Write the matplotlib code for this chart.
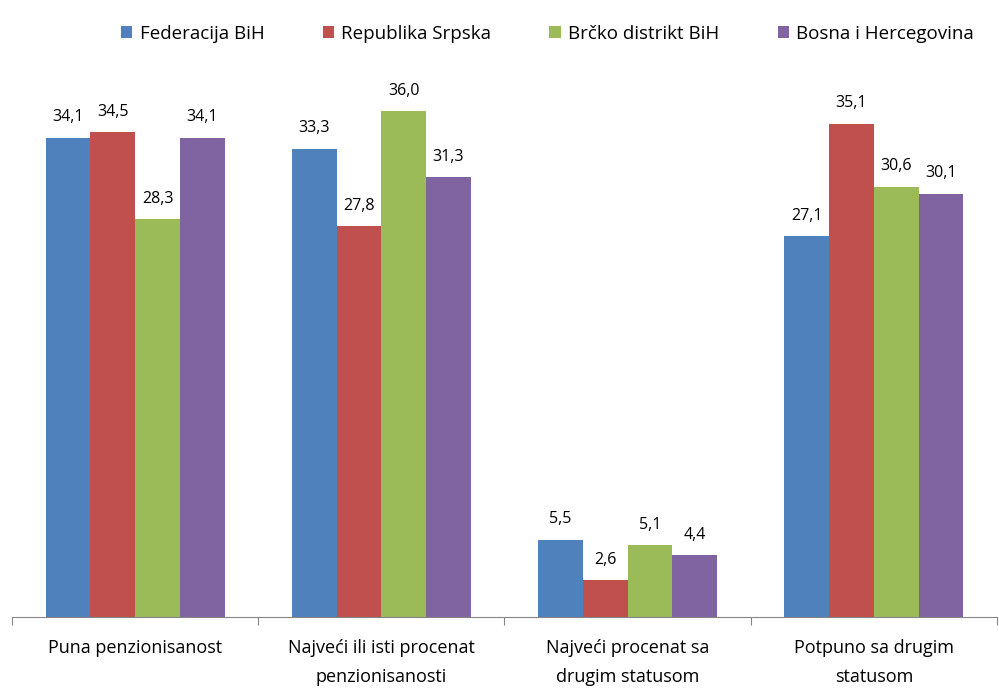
import matplotlib
matplotlib.use("Agg")
import matplotlib.pyplot as plt
import numpy as np

categories = ["Puna penzionisanost", "Najveći ili isti procenat\npenzionisanosti",
              "Najveći procenat sa\ndrugim statusom", "Potpuno sa drugim\nstatusom"]
series_names = ["Federacija BiH", "Republika Srpska", "Brčko distrikt BiH", "Bosna i Hercegovina"]
fbih = [34.1, 33.3, 5.5, 27.1]
rs = [34.5, 27.8, 2.6, 35.1]
brcko = [28.3, 36.0, 5.1, 30.6]
bih = [34.1, 31.3, 4.4, 30.1]
colors = ["#4F81BD", "#C0504D", "#9BBB59", "#8064A2"]

plt.rcParams['font.family'] = ['Open Sans', 'DejaVu Sans']

fig = plt.figure(figsize=(9.99, 6.88), dpi=100)
ax = fig.add_axes([12/999, 71/688, 985/999, 562/688])

x = np.arange(len(categories))
bw = 1/5.5
for i, (vals, name, c) in enumerate(zip([fbih, rs, brcko, bih], series_names, colors)):
    pos = x + (i - 1.5) * bw
    bars = ax.bar(pos, vals, width=bw, color=c, label=name)
    for p, v in zip(pos, vals):
        ax.text(p, v + 0.9, f"{v:.1f}".replace(".", ","), ha="center", va="bottom", fontsize=11.5)

ax.set_xlim(-0.5, len(categories) - 0.5)
ax.set_ylim(0, 40)
ax.set_yticks([])
for s in ["top", "right", "left"]:
    ax.spines[s].set_visible(False)
ax.spines["bottom"].set_color("#868686")
ax.set_xticks(np.arange(len(categories) + 1) - 0.5, minor=False)
ax.set_xticklabels([])
ax.tick_params(axis="x", length=6, color="#868686", direction="out")
for xi, cat in zip(x, categories):
    ax.text(xi, -1.6, cat, ha="center", va="top", fontsize=13, linespacing=1.75)

leg = fig.legend(loc="upper left", bbox_to_anchor=(104/999, 1 - 8/688), ncol=4, frameon=False,
                 fontsize=13.5, handlelength=0.6, handleheight=0.6, handletextpad=0.4, columnspacing=3.1)

fig.savefig("out.png", dpi=100)
